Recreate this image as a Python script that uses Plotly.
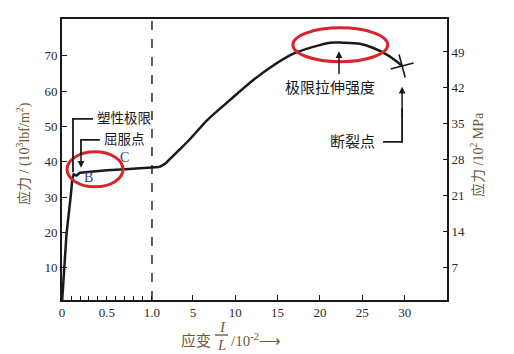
import plotly.graph_objects as go

# ---- data (strain in 1e-2, stress in 1e3 lbf/in^2) ----
seg1_strain = [0.0, 0.05, 0.10, 0.115, 0.13, 0.16, 0.20, 0.30, 0.50, 0.70, 0.90, 1.0]
seg1_stress = [0.0, 19.5, 31.0, 35.2, 36.4, 36.1, 36.9, 37.2, 37.6, 37.9, 38.2, 38.5]
seg2_strain = [1.0, 1.12, 1.7, 2.3, 3.5, 4.7, 6.7, 9.4, 11.7, 14.1, 16.8, 19.2,
               21.2, 22.7, 24.7, 26.3, 27.9, 29.1, 29.7]
seg2_stress = [38.5, 38.6, 39.4, 40.8, 43.6, 46.5, 51.8, 57.5, 62.3, 66.6, 70.5, 72.5,
               73.7, 73.7, 73.4, 72.2, 70.3, 68.3, 67.1]

left_ticks = [10, 20, 30, 40, 50, 60, 70]
right_ticks = [7, 14, 21, 28, 35, 42, 49]
x1_ticks = [0, 0.1, 0.2, 0.3, 0.4, 0.5, 0.6, 0.7, 0.8, 0.9, 1.0]
x1_labels = ["0", "", "", "", "", "0.5", "", "", "", "", "1.0"]
x2_ticks = [5, 10, 15, 20, 25, 30]
ksi_to_100mpa = 0.6895

YR = [0.85, 80.4]
X1R = [0, 1.078]     # expanded part of the broken axis
X2R = [1.0, 35.0]    # compressed part
serif = "Liberation Serif, Noto Sans CJK SC"
cjk = "Liberation Serif, Noto Sans CJK SC"
ink = "#1a1a1a"
title_col = "#6e5a35"
red = "#d7262b"

# the break: end of first panel joins the start of the second panel
seg1_x = seg1_strain + [X1R[1]]
seg1_y = seg1_stress + [seg2_stress[0]]

fig = go.Figure()
fig.add_trace(go.Scatter(x=seg1_x, y=seg1_y, mode="lines", xaxis="x", yaxis="y",
                         line=dict(color=ink, width=2.5)))
fig.add_trace(go.Scatter(x=seg2_strain, y=seg2_stress, mode="lines", xaxis="x2", yaxis="y",
                         line=dict(color=ink, width=2.5, shape="spline", smoothing=0.8)))
fig.add_trace(go.Scatter(x=[seg2_strain[-1]], y=[seg2_stress[-1]], mode="markers", xaxis="x2", yaxis="y",
                         marker=dict(symbol="cross-thin", size=17, angle=-15,
                                     line=dict(color=ink, width=1.6))))
fig.add_trace(go.Scatter(x=[None], y=[None], xaxis="x2", yaxis="y3", showlegend=False))

d1 = (159 - 62) / 385
axis_common = dict(showline=True, linecolor=ink, linewidth=1.6, ticks="inside",
                   tickcolor=ink, tickwidth=1.3, showgrid=False, zeroline=False,
                   tickfont=dict(family=serif, size=13, color="#2a2a2a"))
fig.update_layout(
    width=514, height=354, margin=dict(l=62, r=67, t=19, b=54),
    plot_bgcolor="white", paper_bgcolor="white", showlegend=False,
    xaxis=dict(domain=[0, d1], range=X1R, tickvals=x1_ticks, ticktext=x1_labels,
               ticklen=4, mirror=True, anchor="y", **axis_common),
    xaxis2=dict(domain=[d1, 1], range=X2R, tickvals=x2_ticks, ticklen=5,
                mirror=True, anchor="y", **axis_common),
    yaxis=dict(range=YR, tickvals=left_ticks, ticklen=5, anchor="x", **axis_common),
    yaxis3=dict(range=[YR[0] * ksi_to_100mpa, YR[1] * ksi_to_100mpa], tickvals=right_ticks,
                ticklen=4, overlaying="y", side="right", anchor="x2", **axis_common),
)

shapes = [
    dict(type="line", xref="x", yref="paper", x0=1.0, x1=1.0, y0=0, y1=1,
         line=dict(color=ink, width=1.4, dash="dash")),
    dict(type="circle", xref="x", yref="y", x0=0.056, x1=0.678, y0=32.9, y1=42.8,
         line=dict(color=red, width=3)),
    dict(type="circle", xref="x2", yref="y", x0=16.8, x1=28.0, y0=68.3, y1=77.9,
         line=dict(color=red, width=3)),
    dict(type="path", xref="x", yref="y", path="M 0.122,37.0 L 0.122,52.1 L 0.345,52.1",
         line=dict(color=ink, width=1.8)),
    dict(type="path", xref="x", yref="y", path="M 0.42,46.2 L 0.211,46.2 L 0.211,42",
         line=dict(color=ink, width=1.8)),
    dict(type="path", xref="x2", yref="y", path="M 27.45,45.6 L 29.7,45.6 L 29.7,55",
         line=dict(color=ink, width=1.8)),
    dict(type="line", xref="paper", yref="paper",
         x0=(215 - 62) / 385, x1=(228 - 62) / 385, y0=(300 - 335) / 281, y1=(300 - 335) / 281,
         line=dict(color="#444", width=1.2)),
]
fig.update_layout(shapes=shapes)

def t(**kw):
    kw.setdefault("showarrow", False)
    kw.setdefault("xanchor", "center")
    kw.setdefault("yanchor", "middle")
    return kw

ann = [
    t(x=0.367, y=52.1, xref="x", yref="y", text="塑性极限", xanchor="left",
      font=dict(family=cjk, size=13.5, color=ink)),
    t(x=0.444, y=46.2, xref="x", yref="y", text="屈服点", xanchor="left",
      font=dict(family=cjk, size=13.5, color=ink)),
    t(x=0.70, y=41.3, xref="x", yref="y", text="C", font=dict(family=serif, size=14, color="#2d3f86")),
    t(x=0.29, y=35.4, xref="x", yref="y", text="B", font=dict(family=serif, size=14, color="#2d3f86")),
    dict(x=0.211, y=38.3, xref="x", yref="y", ax=0.211, ay=43, axref="x", ayref="y",
         text="", showarrow=True, arrowhead=2, arrowsize=0.9, arrowwidth=1.5, arrowcolor=ink),
    t(x=21.2, y=60.9, xref="x2", yref="y", text="极限拉伸强度", font=dict(family=cjk, size=15, color=ink)),
    dict(x=22.25, y=71.3, xref="x2", yref="y", ax=22.25, ay=64.4, axref="x2", ayref="y",
         text="", showarrow=True, arrowhead=2, arrowsize=0.9, arrowwidth=1.5, arrowcolor=ink),
    t(x=23.9, y=45.6, xref="x2", yref="y", text="断裂点", font=dict(family=cjk, size=15, color=ink)),
    dict(x=29.7, y=61.2, xref="x2", yref="y", ax=29.7, ay=52, axref="x2", ayref="y",
         text="", showarrow=True, arrowhead=2, arrowsize=0.9, arrowwidth=1.5, arrowcolor=ink),
    # axis titles
    t(x=(23 - 62) / 385, y=(300 - 154) / 281, xref="paper", yref="paper",
      text="应力 / (10<sup>3</sup>lbf/m<sup>2</sup>)", textangle=-90,
      font=dict(family=cjk, size=14, color=title_col)),
    t(x=(477 - 62) / 385, y=(300 - 155) / 281, xref="paper", yref="paper",
      text="应力 /10<sup>2</sup> MPa", textangle=-90,
      font=dict(family=cjk, size=14, color=title_col)),
    t(x=(213 - 62) / 385, y=(300 - 340) / 281, xref="paper", yref="paper", xanchor="right",
      text="应变", font=dict(family=cjk, size=15, color=title_col)),
    t(x=(222 - 62) / 385, y=(300 - 327) / 281, xref="paper", yref="paper",
      text="<i>I</i>", font=dict(family=serif, size=15, color=title_col)),
    t(x=(221 - 62) / 385, y=(300 - 345) / 281, xref="paper", yref="paper",
      text="<i>L</i>", font=dict(family=serif, size=15, color=title_col)),
    t(x=(229 - 62) / 385, y=(300 - 340) / 281, xref="paper", yref="paper", xanchor="left",
      text="/10<sup>-2</sup>⟶", font=dict(family=serif, size=15, color=title_col)),
]
fig.update_layout(annotations=ann)

fig.write_html("out.html")
